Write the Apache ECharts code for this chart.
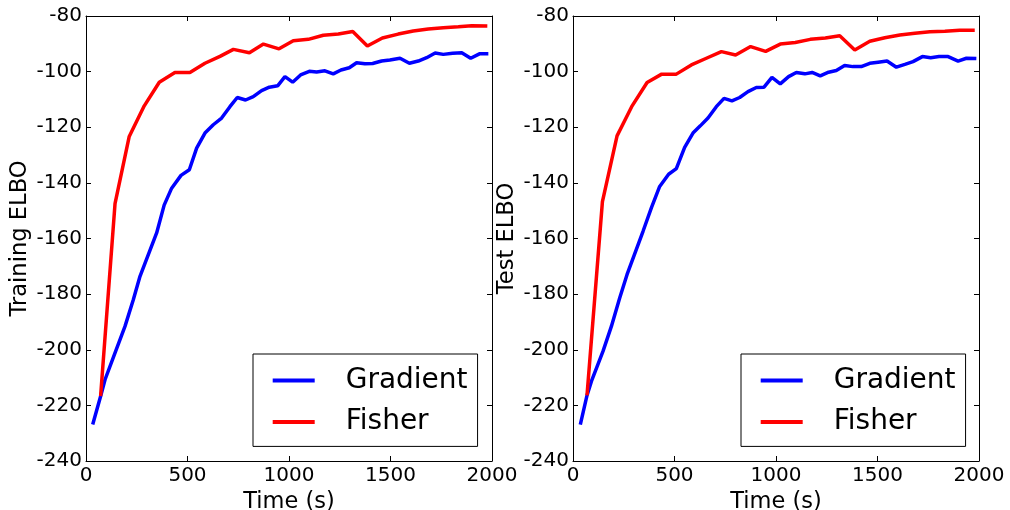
<!DOCTYPE html>
<html>
<head>
<meta charset="utf-8">
<script src="https://cdn.jsdelivr.net/npm/echarts@6/dist/echarts.min.js"></script>
<style>
html,body{margin:0;padding:0;background:#fff;}
#chart{width:1010px;height:510px;}
</style>
</head>
<body>
<div id="chart"></div>
<script>
// ---- Data ----
const seriesNames = ['Gradient', 'Fisher'];
const xTicks = [0, 500, 1000, 1500, 2000];
const yTicks = [-240, -220, -200, -180, -160, -140, -120, -100, -80];

// Training ELBO (left panel)
const trainGradTime = [33, 72, 94, 143, 192, 233, 266, 348, 385, 422, 468, 509, 545, 586, 627, 668, 709, 745, 786, 824, 865, 903, 944, 980, 1018, 1057, 1100, 1136, 1177, 1218, 1256, 1297, 1333, 1374, 1412, 1456, 1497, 1547, 1593, 1637, 1678, 1720, 1760, 1806, 1851, 1895, 1938, 1982];
const trainGrad = [-226.9, -216.7, -210.7, -201.1, -191.6, -182.0, -173.6, -158.0, -148.0, -141.9, -137.3, -135.3, -127.5, -122.1, -119.1, -116.7, -112.6, -109.3, -110.2, -109.0, -106.8, -105.6, -105.1, -101.8, -103.8, -101.2, -99.9, -100.1, -99.7, -100.8, -99.4, -98.6, -96.8, -97.2, -97.1, -96.2, -95.8, -95.2, -97.0, -96.2, -95.0, -93.3, -93.8, -93.4, -93.2, -95.2, -93.6, -93.6];
const trainFisherTime = [72, 143, 213, 287, 361, 438, 512, 586, 660, 726, 805, 874, 951, 1021, 1095, 1169, 1243, 1314, 1386, 1460, 1538, 1612, 1686, 1760, 1834, 1900, 1977];
const trainFisher = [-216.7, -147.5, -123.3, -112.3, -103.8, -100.3, -100.3, -97.0, -94.5, -92.0, -93.2, -90.1, -91.8, -88.9, -88.4, -86.9, -86.5, -85.6, -90.8, -87.9, -86.5, -85.4, -84.7, -84.2, -83.9, -83.5, -83.6];

// Test ELBO (right panel)
const testGradTime = [36, 69, 91, 148, 189, 230, 266, 345, 386, 427, 471, 509, 550, 591, 627, 665, 706, 744, 783, 821, 862, 903, 941, 980, 1021, 1062, 1100, 1142, 1178, 1218, 1259, 1297, 1338, 1379, 1420, 1462, 1503, 1547, 1593, 1635, 1675, 1721, 1762, 1803, 1848, 1897, 1938, 1987];
const testGrad = [-226.9, -216.4, -211.3, -200.5, -191.6, -181.4, -173.0, -157.4, -149.0, -141.3, -136.9, -134.9, -127.2, -122.1, -119.5, -116.7, -112.6, -109.6, -110.5, -109.3, -107.2, -105.7, -105.6, -102.1, -104.4, -101.8, -100.3, -100.8, -100.3, -101.5, -100.2, -99.6, -97.8, -98.2, -98.2, -97.0, -96.6, -96.2, -98.4, -97.4, -96.4, -94.6, -95.0, -94.6, -94.6, -96.2, -95.2, -95.3];
const testFisherTime = [69, 145, 217, 289, 365, 437, 509, 583, 657, 731, 801, 875, 949, 1021, 1095, 1169, 1243, 1314, 1388, 1462, 1536, 1610, 1684, 1758, 1832, 1905, 1979];
const testFisher = [-216.4, -146.7, -123.1, -112.6, -103.9, -100.9, -100.9, -97.6, -95.2, -92.8, -94.0, -91.0, -92.7, -90.1, -89.5, -88.4, -87.9, -87.1, -92.2, -89.1, -87.8, -86.8, -86.2, -85.7, -85.5, -85.1, -85.1];

const yNames = ['Training ELBO', 'Test ELBO'];
const xName = 'Time (s)';

// ---- Chart ----
const FONT = 'DejaVu Sans';
const zip = (xs, ys) => xs.map((x, i) => [x, ys[i]]);

const grids = [
  {left: 86, right: 518, top: 16, bottom: 49, containLabel: false, outerBoundsMode: 'none'},
  {left: 573, right: 31, top: 16, bottom: 49, containLabel: false, outerBoundsMode: 'none'}
];

function xAxes(g) {
  const common = {
    gridIndex: g, type: 'value', min: xTicks[0], max: xTicks[xTicks.length - 1],
    interval: xTicks[1] - xTicks[0],
    axisLine: {show: true, onZero: false, lineStyle: {color: '#000', width: 1}},
    axisTick: {show: true, inside: true, length: 5, lineStyle: {color: '#000', width: 1}},
    splitLine: {show: false}
  };
  return [
    Object.assign({}, common, {
      position: 'bottom',
      axisLabel: {show: true, fontSize: 20, color: '#000', fontFamily: FONT, margin: 5,
                  formatter: v => String(v)},
      name: xName, nameLocation: 'middle', nameGap: 26,
      nameTextStyle: {fontSize: 22.5, color: '#000', fontFamily: FONT}
    }),
    Object.assign({}, common, {position: 'top', axisLabel: {show: false}})
  ];
}
function yAxes(g) {
  const common = {
    gridIndex: g, type: 'value', min: yTicks[0], max: yTicks[yTicks.length - 1],
    interval: yTicks[1] - yTicks[0],
    axisLine: {show: true, onZero: false, lineStyle: {color: '#000', width: 1}},
    axisTick: {show: true, inside: true, length: 5, lineStyle: {color: '#000', width: 1}},
    splitLine: {show: false}
  };
  return [
    Object.assign({}, common, {
      position: 'left',
      axisLabel: {show: true, fontSize: 20, color: '#000', fontFamily: FONT, margin: 4,
                  formatter: v => String(v)},
      name: yNames[g], nameLocation: 'middle', nameGap: 54,
      nameTextStyle: {fontSize: 22.6, color: '#000', fontFamily: FONT}
    }),
    Object.assign({}, common, {position: 'right', axisLabel: {show: false}})
  ];
}

function legendFor(left) {
  return {
    data: seriesNames, orient: 'vertical', left: left, top: 354,
    icon: 'rect', itemWidth: 42, itemHeight: 4, itemGap: 11.6,
    padding: [11.4, 10, 9.4, 19.7],
    backgroundColor: '#fff', borderColor: '#000', borderWidth: 1, borderRadius: 0,
    selectedMode: false,
    textStyle: {fontSize: 28, color: '#000', fontFamily: FONT, lineHeight: 30, padding: [0, 0, 0, 26]}
  };
}

const lineSeries = (name, data, xi, yi, color) => ({
  name: name, type: 'line', data: data, xAxisIndex: xi, yAxisIndex: yi,
  showSymbol: false, symbol: 'none', smooth: false, animation: false,
  lineStyle: {color: color, width: 3.5}, itemStyle: {color: color}
});

const option = {
  animation: false,
  backgroundColor: '#fff',
  grid: grids,
  xAxis: [...xAxes(0), ...xAxes(1)],
  yAxis: [...yAxes(0), ...yAxes(1)],
  legend: [legendFor(253), legendFor(741)],
  series: [
    lineSeries(seriesNames[0], zip(trainGradTime, trainGrad), 0, 0, '#0000ff'),
    lineSeries(seriesNames[1], zip(trainFisherTime, trainFisher), 0, 0, '#ff0000'),
    lineSeries(seriesNames[0], zip(testGradTime, testGrad), 2, 2, '#0000ff'),
    lineSeries(seriesNames[1], zip(testFisherTime, testFisher), 2, 2, '#ff0000')
  ]
};

const chart = echarts.init(document.getElementById('chart'), null, {renderer: 'canvas'});
chart.setOption(option);
</script>
</body>
</html>
